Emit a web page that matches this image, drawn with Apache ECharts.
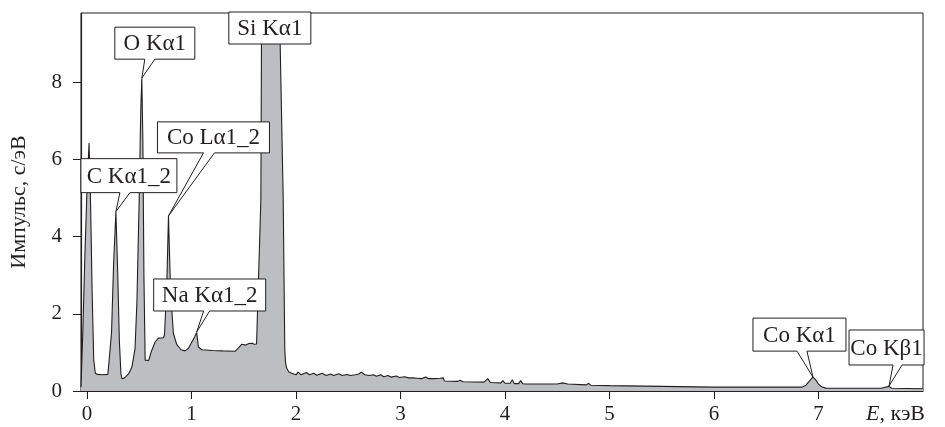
<!DOCTYPE html>
<html>
<head>
<meta charset="utf-8">
<script src="https://cdn.jsdelivr.net/npm/echarts@6/dist/echarts.min.js"></script>
<style>
html,body{margin:0;padding:0;background:#fff;}
#chart{width:945px;height:427px;}
</style>
</head>
<body>
<div id="chart"></div>
<script>
// ---- Data ----
var energy = [
  -0.057,-0.04,-0.02,0.0,0.02,0.035,0.05,0.065,0.08,0.1,0.15,0.2,
  0.215,0.235,0.255,0.277,0.295,0.31,0.325,0.335,0.36,0.4,0.43,0.46,0.478,0.5,0.515,0.525,0.535,0.545,0.557,0.572,0.59,
  0.614,0.652,0.684,0.732,0.742,0.764,0.78,0.8,0.827,0.86,0.9,0.938,0.97,1.0,1.03,1.05,1.066,1.1,1.2,1.3,1.416,1.45,1.48,1.52,1.55,1.58,1.6,1.623,1.632,
  1.664,1.671,1.731,1.843,1.878,1.893,1.9,1.91,1.93,1.96,
  2.0,2.02,2.05,2.1,2.13,2.17,2.2,2.25,2.29,2.33,2.36,2.41,2.44,2.49,2.52,2.57,2.6,2.625,2.66,2.7,2.74,2.77,2.81,2.84,2.88,2.91,2.96,2.99,3.04,3.08,3.12,3.16,3.2,3.24,3.27,3.32,3.38,3.41,3.42,
  3.55,3.57,3.6,3.8,3.835,3.86,3.96,3.98,4.0,4.05,4.07,4.09,4.13,4.15,4.17,4.2,4.5,4.55,4.6,4.78,4.8,4.82,5.0,5.5,6.0,6.5,
  6.84,6.88,6.91,6.947,6.97,7.0,7.03,7.07,7.15,7.6,7.675,7.7,8.0
];
var counts = [
  0.1,1.5,3.5,5.2,6.43,4.8,2.5,0.8,0.46,0.43,0.42,0.43,
  0.45,1.5,3.3,4.65,3.0,1.3,0.45,0.32,0.34,0.45,0.62,1.1,2.3,5.0,7.3,8.11,6.5,3.0,0.8,0.78,0.79,
  1.01,1.27,1.37,1.38,1.45,2.75,4.54,2.6,1.49,1.2,1.07,1.04,1.1,1.25,1.4,1.52,1.14,1.07,1.05,1.04,1.03,1.12,1.21,1.19,1.23,1.24,1.21,1.22,1.24,
  4.95,9.8,29.5,9.8,4.95,1.06,0.75,0.6,0.5,0.46,
  0.42,0.49,0.42,0.48,0.42,0.46,0.41,0.46,0.40,0.44,0.40,0.45,0.40,0.43,0.40,0.42,0.44,0.49,0.42,0.40,0.42,0.38,0.42,0.37,0.40,0.36,0.39,0.35,0.37,0.34,0.34,0.33,0.32,0.36,0.32,0.32,0.33,0.34,0.26,
  0.25,0.28,0.24,0.23,0.32,0.22,0.21,0.27,0.2,0.2,0.29,0.19,0.19,0.27,0.19,0.18,0.18,0.21,0.18,0.16,0.2,0.15,0.14,0.12,0.1,0.1,
  0.1,0.15,0.25,0.36,0.3,0.18,0.11,0.075,0.07,0.07,0.12,0.07,0.06
];
var xTicks = [0,1,2,3,4,5,6,7];
var yTicks = [0,2,4,6,8];
var peakNames = ['Si K\u03b11','O K\u03b11','C K\u03b11_2','Co L\u03b11_2','Na K\u03b11_2','Co K\u03b11','Co K\u03b21'];
var peakE     = [1.75, 0.525, 0.277, 0.78, 1.05, 6.947, 7.675];
var peakY     = [9.8, 8.11, 4.65, 4.54, 1.53, 0.36, 0.13];
var yAxisTitle = '\u0418\u043c\u043f\u0443\u043b\u044c\u0441, \u0441/\u044d\u0412';
var xAxisTitle = '\u043a\u044d\u0412';

// ---- Layout (pixel offsets of each label box relative to its peak tip) ----
// [left, top, right, bottom, tailBase1, tailBase2, hasTail]
var boxLayout = [
  [-41, -1, 41, 31, 0, 0, 0],
  [-27, -51, 53, -19, 3, 13, 1],
  [-35, -53, 61, -19, 4, 14, 1],
  [-11, -94, 101, -63, 35, 46, 1],
  [-43, -53, 69, -21, 7, 13, 1],
  [-60, -59, 33, -26, -16, -6, 1],
  [-40, -56, 35, -21, 4, 13, 1]
];

var FONT = '"Liberation Serif", "Times New Roman", serif';
var lineData = energy.map(function (e, i) { return [e, counts[i]]; });
var annData = peakE.map(function (e, i) { return [e, peakY[i], i]; });

var chart = echarts.init(document.getElementById('chart'), null, {renderer: 'canvas'});
chart.setOption({
  animation: false,
  backgroundColor: '#fff',
  grid: {left: 79, right: 22, top: 13, bottom: 36, show: true, borderColor: '#231f20', borderWidth: 1, backgroundColor: 'transparent'},
  xAxis: {
    type: 'value', min: -0.057, max: 8.0,
    axisLine: {onZero: false, lineStyle: {color: '#231f20', width: 1.2}},
    axisTick: {show: true, inside: false, length: 8, customValues: xTicks, lineStyle: {color: '#231f20', width: 1}},
    axisLabel: {customValues: xTicks, margin: 13, color: '#231f20', fontFamily: FONT, fontSize: 21},
    splitLine: {show: false}
  },
  yAxis: {
    type: 'value', min: 0, max: 9.8,
    name: yAxisTitle, nameLocation: 'middle', nameGap: 51,
    nameTextStyle: {color: '#231f20', fontFamily: FONT, fontSize: 22},
    axisLine: {show: true, onZero: false, lineStyle: {color: '#231f20', width: 1.2}},
    axisTick: {show: true, inside: false, length: 8, customValues: yTicks, lineStyle: {color: '#231f20', width: 1}},
    axisLabel: {customValues: yTicks, margin: 19, color: '#231f20', fontFamily: FONT, fontSize: 21},
    splitLine: {show: false}
  },
  series: [
    {
      type: 'line', data: lineData, showSymbol: false, symbol: 'none', clip: true,
      lineStyle: {color: '#231f20', width: 1.1},
      areaStyle: {color: '#bdbec1', opacity: 1},
      z: 2
    },
    {
      type: 'custom', data: annData, clip: false, z: 5,
      renderItem: function (params, api) {
        var idx = api.value(2);
        var tip = api.coord([api.value(0), api.value(1)]);
        var L = boxLayout[idx];
        var x0 = tip[0] + L[0], y0 = tip[1] + L[1], x1 = tip[0] + L[2], y1 = tip[1] + L[3];
        var pts;
        if (L[6]) {
          pts = [[x0, y0], [x1, y0], [x1, y1], [tip[0] + L[5], y1], [tip[0], tip[1]], [tip[0] + L[4], y1], [x0, y1]];
        } else {
          pts = [[x0, y0], [x1, y0], [x1, y1], [x0, y1]];
        }
        return {
          type: 'group',
          children: [
            {type: 'polygon', shape: {points: pts}, style: {fill: '#fff', stroke: '#231f20', lineWidth: 1}},
            {type: 'text', style: {text: peakNames[idx], x: (x0 + x1) / 2, y: (y0 + y1) / 2 + 1, align: 'center', verticalAlign: 'middle', fill: '#231f20', font: '23px ' + FONT}}
          ]
        };
      }
    }
  ],
  graphic: [
    {
      type: 'text', right: 20, top: 403,
      style: {
        text: '{i|E}, {n|' + xAxisTitle + '}',
        rich: {i: {fontStyle: 'italic', fontFamily: FONT, fontSize: 22, fill: '#231f20'}, n: {fontFamily: FONT, fontSize: 22, fill: '#231f20'}},
        fontFamily: FONT, fontSize: 22, fill: '#231f20'
      }
    }
  ]
});
</script>
</body>
</html>
